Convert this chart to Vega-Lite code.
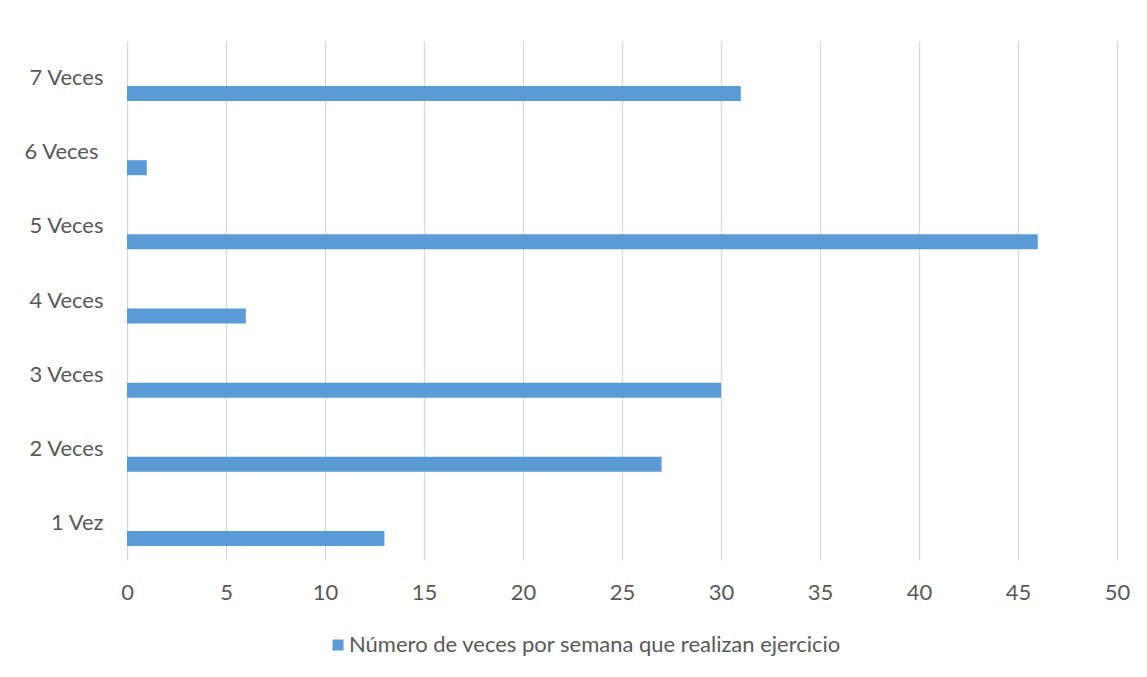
{
  "$schema": "https://vega.github.io/schema/vega-lite/v6.json",
  "width": 990,
  "height": 519,
  "autosize": {"type": "none"},
  "padding": {"left": 127, "top": 41, "right": 30, "bottom": 117},
  "background": "white",
  "config": {
    "view": {"stroke": null},
    "font": "Lato",
    "text": {"font": "Lato"}
  },
  "data": {
    "values": [
      {"frecuencia": "1 Vez", "personas": 13, "serie": "Número de veces por semana que realizan ejercicio"},
      {"frecuencia": "2 Veces", "personas": 27, "serie": "Número de veces por semana que realizan ejercicio"},
      {"frecuencia": "3 Veces", "personas": 30, "serie": "Número de veces por semana que realizan ejercicio"},
      {"frecuencia": "4 Veces", "personas": 6, "serie": "Número de veces por semana que realizan ejercicio"},
      {"frecuencia": "5 Veces", "personas": 46, "serie": "Número de veces por semana que realizan ejercicio"},
      {"frecuencia": "6 Veces", "personas": 1, "serie": "Número de veces por semana que realizan ejercicio"},
      {"frecuencia": "7 Veces", "personas": 31, "serie": "Número de veces por semana que realizan ejercicio"}
    ]
  },
  "mark": {"type": "bar", "height": 15, "yOffset": 15.5},
  "encoding": {
    "y": {
      "field": "frecuencia",
      "type": "nominal",
      "sort": ["7 Veces", "6 Veces", "5 Veces", "4 Veces", "3 Veces", "2 Veces", "1 Vez"],
      "scale": {"paddingInner": 0, "paddingOuter": 0},
      "axis": {
        "title": null,
        "domain": false,
        "ticks": false,
        "grid": false,
        "labelPadding": {"condition": {"test": "datum.value === '6 Veces'", "value": 29}, "value": 24},
        "labelFont": "Lato",
        "labelFontSize": 22,
        "labelColor": "#595959"
      }
    },
    "x": {
      "field": "personas",
      "type": "quantitative",
      "scale": {"domain": [0, 50], "nice": false},
      "axis": {
        "title": null,
        "values": [0, 5, 10, 15, 20, 25, 30, 35, 40, 45, 50],
        "domain": false,
        "ticks": false,
        "grid": true,
        "gridColor": "#D9D9D9",
        "gridWidth": 1.3,
        "labelFlush": false,
        "labelPadding": 22,
        "labelFont": "Lato",
        "labelFontSize": 22,
        "labelColor": "#595959"
      }
    },
    "color": {
      "field": "serie",
      "type": "nominal",
      "scale": {"range": ["#5B9BD5"]},
      "legend": {
        "title": null,
        "orient": "none",
        "legendX": 200,
        "legendY": 593,
        "symbolType": "square",
        "symbolSize": 121,
        "symbolStrokeWidth": 0,
        "labelFont": "Lato",
        "labelFontSize": 22,
        "labelColor": "#595959",
        "labelOffset": 0,
        "labelLimit": 800
      }
    }
  }
}
